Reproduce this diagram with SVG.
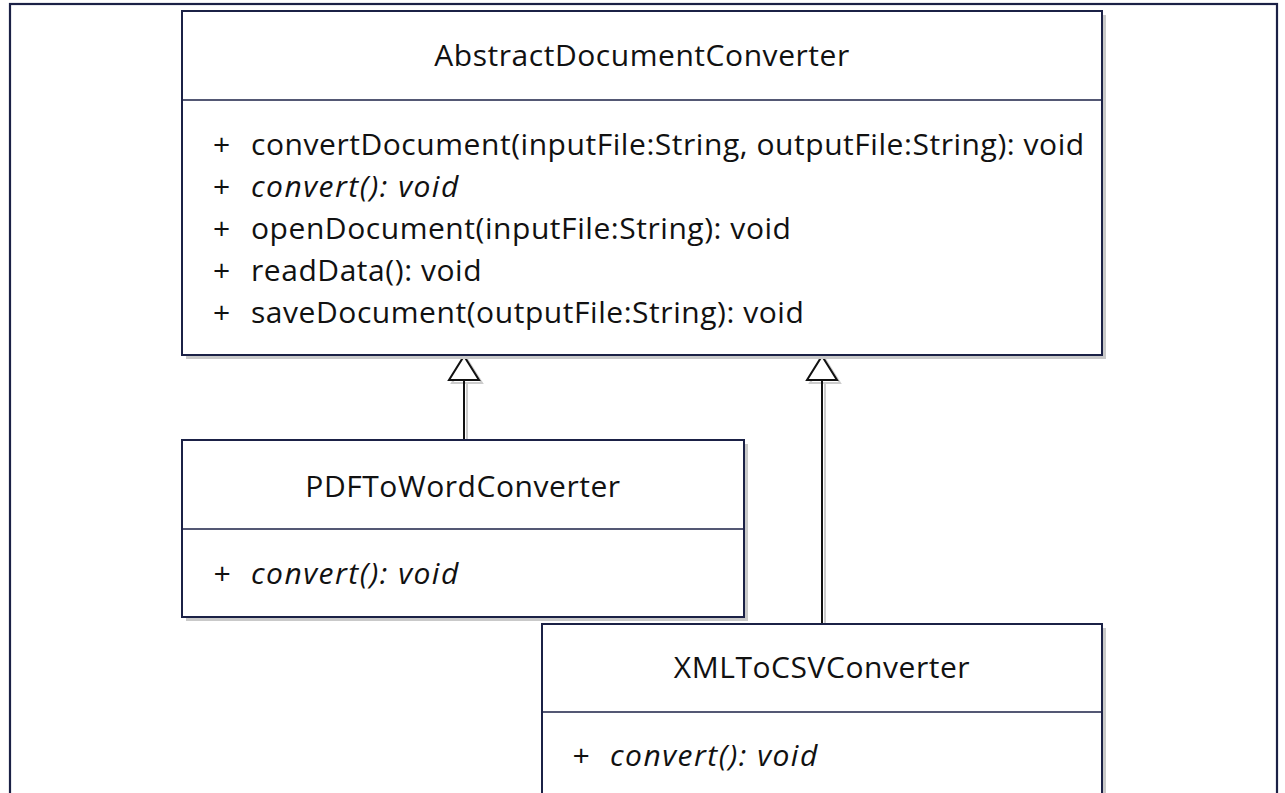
<svg xmlns="http://www.w3.org/2000/svg" width="1285" height="793" viewBox="0 0 1285 793">
<style>
.box{fill:#ffffff;stroke:#1b2146;stroke-width:2}
.shd{fill:#c9c9c9;stroke:none}
.div{stroke:#1b2146;stroke-width:1.6}
.t{font-family:"Open Sans","Noto Sans",sans-serif;font-size:30px;fill:#111111;letter-spacing:0.55px}
.i{font-style:italic;letter-spacing:1.5px}
.ln{stroke:#111111;stroke-width:2;fill:none}
.lns{stroke:#cccccc;stroke-width:2;fill:none}
.ah{fill:#ffffff;stroke:#111111;stroke-width:2}
.ahs{fill:none;stroke:#cccccc;stroke-width:2}
</style>
<rect width="1285" height="793" fill="#ffffff"/>
<rect x="10" y="4" width="1267" height="800" fill="none" stroke="#1b2146" stroke-width="2.2"/>
<g id="connectors">
<line class="lns" x1="467" y1="382" x2="467" y2="440"/>
<polygon class="ahs" points="467,359 482,383 452,383"/>
<line class="ln" x1="464" y1="380" x2="464" y2="440"/>
<polygon class="ah" points="464,356 479,380 449,380"/>
<line class="lns" x1="825" y1="382" x2="825" y2="624"/>
<polygon class="ahs" points="825,359 840,383 810,383"/>
<line class="ln" x1="822" y1="380" x2="822" y2="624"/>
<polygon class="ah" points="822,356 837,380 807,380"/>
</g>
<g id="AbstractDocumentConverter">
<rect class="shd" x="186" y="15" width="920" height="344"/>
<rect class="box" x="182" y="11" width="920" height="344"/>
<line class="div" x1="182" y1="100" x2="1102" y2="100"/>
<text class="t" x="642" y="66" text-anchor="middle">AbstractDocumentConverter</text>
<text class="t" x="213" y="155">+</text><text class="t" x="251" y="155">convertDocument(inputFile:String, outputFile:String): void</text>
<text class="t" x="213" y="197">+</text><text class="t i" x="251" y="197">convert(): void</text>
<text class="t" x="213" y="239">+</text><text class="t" x="251" y="239">openDocument(inputFile:String): void</text>
<text class="t" x="213" y="281">+</text><text class="t" x="251" y="281">readData(): void</text>
<text class="t" x="213" y="323">+</text><text class="t" x="251" y="323">saveDocument(outputFile:String): void</text>
</g>
<g id="PDFToWordConverter">
<rect class="shd" x="186" y="444" width="562" height="177"/>
<rect class="box" x="182" y="440" width="562" height="177"/>
<line class="div" x1="182" y1="529" x2="744" y2="529"/>
<text class="t" x="463" y="497" text-anchor="middle">PDFToWordConverter</text>
<text class="t i" x="213" y="584">+</text><text class="t i" x="251" y="584">convert(): void</text>
</g>
<g id="XMLToCSVConverter">
<rect class="shd" x="546" y="628" width="560" height="200"/>
<rect class="box" x="542" y="624" width="560" height="200"/>
<line class="div" x1="542" y1="712" x2="1102" y2="712"/>
<text class="t" x="822" y="678" text-anchor="middle">XMLToCSVConverter</text>
<text class="t i" x="572" y="766">+</text><text class="t i" x="610" y="766">convert(): void</text>
</g>
</svg>
